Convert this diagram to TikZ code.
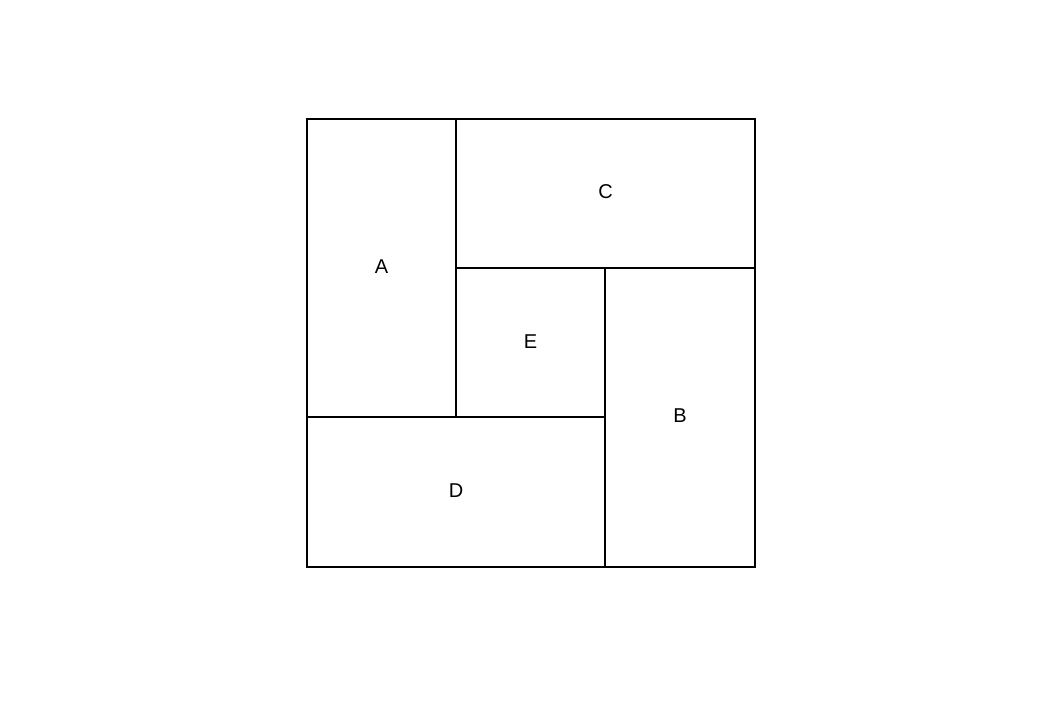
\documentclass[tikz,border=0pt]{standalone}
\usepackage{fontspec}
\setmainfont{Liberation Sans}
\begin{document}
\begin{tikzpicture}[x=0.75pt,y=-0.75pt,
  cell/.style={draw=black,line width=1.5pt},
  lbl/.style={font=\fontsize{15pt}{17pt}\selectfont,inner sep=0pt}]
\useasboundingbox (0,0) rectangle (1047,712);
\draw[cell] (307,119) rectangle (456,417);
\draw[cell] (456,119) rectangle (755,268);
\draw[cell] (456,268) rectangle (605,417);
\draw[cell] (605,268) rectangle (755,567);
\draw[cell] (307,417) rectangle (605,567);
\node[lbl] (A) at (381.5,267) {A};
\node[lbl] (C) at (605.5,192) {C};
\node[lbl] (E) at (530.5,342) {E};
\node[lbl] (B) at (680,416) {B};
\node[lbl] (D) at (456,491) {D};
\end{tikzpicture}
\end{document}
